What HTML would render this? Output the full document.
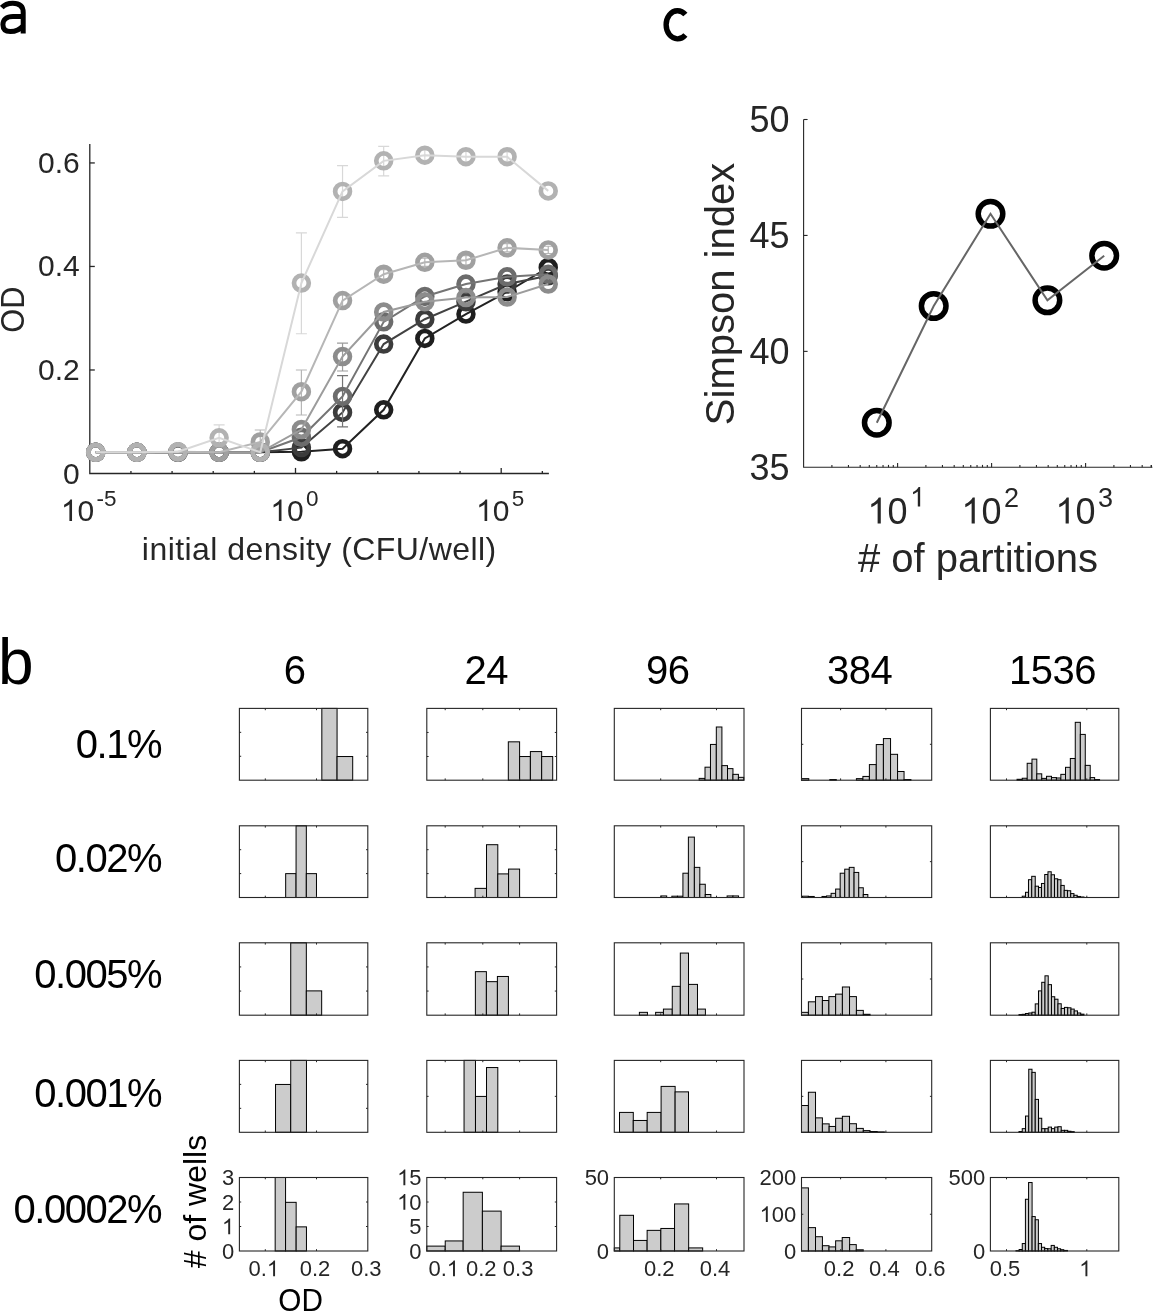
<!DOCTYPE html>
<html><head><meta charset="utf-8"><style>
html,body{margin:0;padding:0;background:#fff;width:1154px;height:1311px;overflow:hidden}
svg{display:block;font-family:"Liberation Sans",sans-serif;will-change:transform}
</style></head><body>
<svg width="1154" height="1311" viewBox="0 0 1154 1311">
<path d="M1.8,7.6 C4.8,4 8.8,3.2 12.8,3.2 C19.6,3.2 23.2,6 23.2,12.5 L23.2,33.6 M23.2,16.6 L13,16.6 C6.5,16.6 2.9,19.5 2.9,24.6 C2.9,29.6 6,31.6 10.4,31.6 C15.5,31.6 20,29.6 23.2,25.6" fill="none" stroke="#000" stroke-width="5"/>
<path d="M685.4,14.6 A11.4 14.1 0 1 0 685.4,35" fill="none" stroke="#000" stroke-width="5.4"/>
<text x="-2" y="683.5" font-size="64" fill="#000">b</text>
<path d="M89.8,144.0 L89.8,473.5 L548.9,473.5" fill="none" stroke="#262626" stroke-width="1.3"/>
<line x1="89.80" y1="369.98" x2="94.80" y2="369.98" stroke="#262626" stroke-width="1.3" />
<line x1="89.80" y1="266.46" x2="94.80" y2="266.46" stroke="#262626" stroke-width="1.3" />
<line x1="89.80" y1="162.94" x2="94.80" y2="162.94" stroke="#262626" stroke-width="1.3" />
<line x1="130.94" y1="473.50" x2="130.94" y2="470.90" stroke="#262626" stroke-width="1.3" />
<line x1="172.08" y1="473.50" x2="172.08" y2="470.90" stroke="#262626" stroke-width="1.3" />
<line x1="213.22" y1="473.50" x2="213.22" y2="470.90" stroke="#262626" stroke-width="1.3" />
<line x1="254.36" y1="473.50" x2="254.36" y2="470.90" stroke="#262626" stroke-width="1.3" />
<line x1="295.50" y1="473.50" x2="295.50" y2="467.90" stroke="#262626" stroke-width="1.3" />
<line x1="336.64" y1="473.50" x2="336.64" y2="470.90" stroke="#262626" stroke-width="1.3" />
<line x1="377.78" y1="473.50" x2="377.78" y2="470.90" stroke="#262626" stroke-width="1.3" />
<line x1="418.92" y1="473.50" x2="418.92" y2="470.90" stroke="#262626" stroke-width="1.3" />
<line x1="460.06" y1="473.50" x2="460.06" y2="470.90" stroke="#262626" stroke-width="1.3" />
<line x1="501.20" y1="473.50" x2="501.20" y2="467.90" stroke="#262626" stroke-width="1.3" />
<line x1="542.34" y1="473.50" x2="542.34" y2="470.90" stroke="#262626" stroke-width="1.3" />
<text x="79.80" y="483.50" font-size="30" text-anchor="end" fill="#262626" >0</text>
<text x="79.80" y="379.98" font-size="30" text-anchor="end" fill="#262626" >0.2</text>
<text x="79.80" y="276.46" font-size="30" text-anchor="end" fill="#262626" >0.4</text>
<text x="79.80" y="172.94" font-size="30" text-anchor="end" fill="#262626" >0.6</text>
<path d="M763,0L583,0L583,1147Q518,1085 412.5,1023T223,930L223,1104Q374,1175 487,1276T647,1472L763,1472Z" fill="#262626" transform="translate(60.86,521.00) scale(0.01465,-0.01465)"/>
<text x="77.55" y="521.00" font-size="30" fill="#262626">0</text>
<text x="96.48" y="506.00" font-size="22.5" fill="#262626">-5</text>
<path d="M763,0L583,0L583,1147Q518,1085 412.5,1023T223,930L223,1104Q374,1175 487,1276T647,1472L763,1472Z" fill="#262626" transform="translate(270.31,521.00) scale(0.01465,-0.01465)"/>
<text x="286.99" y="521.00" font-size="30" fill="#262626">0</text>
<text x="305.93" y="506.00" font-size="22.5" fill="#262626">0</text>
<path d="M763,0L583,0L583,1147Q518,1085 412.5,1023T223,930L223,1104Q374,1175 487,1276T647,1472L763,1472Z" fill="#262626" transform="translate(476.01,521.00) scale(0.01465,-0.01465)"/>
<text x="492.69" y="521.00" font-size="30" fill="#262626">0</text>
<text x="511.63" y="506.00" font-size="22.5" fill="#262626">5</text>
<text x="319.3" y="560" font-size="32" text-anchor="middle" fill="#262626" letter-spacing="0.45">initial density (CFU/well)</text>
<text x="0" y="0" font-size="33.5" text-anchor="middle" fill="#262626" transform="translate(23.8,309.6) rotate(-90) scale(0.92,1)">OD</text>
<circle cx="95.70" cy="452.28" r="7.4" fill="none" stroke="#1e1e1e" stroke-width="4.7"/>
<circle cx="136.84" cy="452.28" r="7.4" fill="none" stroke="#1e1e1e" stroke-width="4.7"/>
<circle cx="177.98" cy="452.28" r="7.4" fill="none" stroke="#1e1e1e" stroke-width="4.7"/>
<circle cx="219.12" cy="452.28" r="7.4" fill="none" stroke="#1e1e1e" stroke-width="4.7"/>
<circle cx="260.26" cy="452.28" r="7.4" fill="none" stroke="#1e1e1e" stroke-width="4.7"/>
<circle cx="301.40" cy="451.76" r="7.4" fill="none" stroke="#1e1e1e" stroke-width="4.7"/>
<circle cx="342.54" cy="448.66" r="7.4" fill="none" stroke="#1e1e1e" stroke-width="4.7"/>
<circle cx="383.68" cy="409.84" r="7.4" fill="none" stroke="#1e1e1e" stroke-width="4.7"/>
<circle cx="424.82" cy="338.41" r="7.4" fill="none" stroke="#1e1e1e" stroke-width="4.7"/>
<circle cx="465.96" cy="314.08" r="7.4" fill="none" stroke="#1e1e1e" stroke-width="4.7"/>
<circle cx="507.10" cy="291.82" r="7.4" fill="none" stroke="#1e1e1e" stroke-width="4.7"/>
<circle cx="548.24" cy="267.50" r="7.4" fill="none" stroke="#1e1e1e" stroke-width="4.7"/>
<polyline points="95.70,452.28 136.84,452.28 177.98,452.28 219.12,452.28 260.26,452.28 301.40,451.76 342.54,448.66 383.68,409.84 424.82,338.41 465.96,314.08 507.10,291.82 548.24,267.50" fill="none" stroke="#222222" stroke-width="2"/>
<circle cx="95.70" cy="452.28" r="7.4" fill="none" stroke="#3c3c3c" stroke-width="4.7"/>
<circle cx="136.84" cy="452.28" r="7.4" fill="none" stroke="#3c3c3c" stroke-width="4.7"/>
<circle cx="177.98" cy="452.28" r="7.4" fill="none" stroke="#3c3c3c" stroke-width="4.7"/>
<circle cx="219.12" cy="452.28" r="7.4" fill="none" stroke="#3c3c3c" stroke-width="4.7"/>
<circle cx="260.26" cy="452.28" r="7.4" fill="none" stroke="#3c3c3c" stroke-width="4.7"/>
<circle cx="301.40" cy="447.62" r="7.4" fill="none" stroke="#3c3c3c" stroke-width="4.7"/>
<circle cx="342.54" cy="412.42" r="7.4" fill="none" stroke="#3c3c3c" stroke-width="4.7"/>
<circle cx="383.68" cy="344.10" r="7.4" fill="none" stroke="#3c3c3c" stroke-width="4.7"/>
<circle cx="424.82" cy="319.26" r="7.4" fill="none" stroke="#3c3c3c" stroke-width="4.7"/>
<circle cx="465.96" cy="301.66" r="7.4" fill="none" stroke="#3c3c3c" stroke-width="4.7"/>
<circle cx="507.10" cy="284.06" r="7.4" fill="none" stroke="#3c3c3c" stroke-width="4.7"/>
<circle cx="548.24" cy="275.78" r="7.4" fill="none" stroke="#3c3c3c" stroke-width="4.7"/>
<polyline points="95.70,452.28 136.84,452.28 177.98,452.28 219.12,452.28 260.26,452.28 301.40,447.62 342.54,412.42 383.68,344.10 424.82,319.26 465.96,301.66 507.10,284.06 548.24,275.78" fill="none" stroke="#424242" stroke-width="2"/>
<path d="M342.54,426.92V375.67M337.04,426.92h11M337.04,375.67h11" stroke="#747474" stroke-width="1.2" fill="none"/>
<circle cx="95.70" cy="452.28" r="7.4" fill="none" stroke="#6c6c6c" stroke-width="4.7"/>
<circle cx="136.84" cy="452.28" r="7.4" fill="none" stroke="#6c6c6c" stroke-width="4.7"/>
<circle cx="177.98" cy="452.28" r="7.4" fill="none" stroke="#6c6c6c" stroke-width="4.7"/>
<circle cx="219.12" cy="452.28" r="7.4" fill="none" stroke="#6c6c6c" stroke-width="4.7"/>
<circle cx="260.26" cy="452.28" r="7.4" fill="none" stroke="#6c6c6c" stroke-width="4.7"/>
<circle cx="301.40" cy="437.27" r="7.4" fill="none" stroke="#6c6c6c" stroke-width="4.7"/>
<circle cx="342.54" cy="396.38" r="7.4" fill="none" stroke="#6c6c6c" stroke-width="4.7"/>
<circle cx="383.68" cy="321.84" r="7.4" fill="none" stroke="#6c6c6c" stroke-width="4.7"/>
<circle cx="424.82" cy="296.48" r="7.4" fill="none" stroke="#6c6c6c" stroke-width="4.7"/>
<circle cx="465.96" cy="284.06" r="7.4" fill="none" stroke="#6c6c6c" stroke-width="4.7"/>
<circle cx="507.10" cy="276.81" r="7.4" fill="none" stroke="#6c6c6c" stroke-width="4.7"/>
<circle cx="548.24" cy="274.22" r="7.4" fill="none" stroke="#6c6c6c" stroke-width="4.7"/>
<polyline points="95.70,452.28 136.84,452.28 177.98,452.28 219.12,452.28 260.26,452.28 301.40,437.27 342.54,396.38 383.68,321.84 424.82,296.48 465.96,284.06 507.10,276.81 548.24,274.22" fill="none" stroke="#747474" stroke-width="2"/>
<path d="M342.54,371.02V343.06M337.04,371.02h11M337.04,343.06h11" stroke="#9c9c9c" stroke-width="1.2" fill="none"/>
<circle cx="95.70" cy="452.28" r="7.4" fill="none" stroke="#8c8c8c" stroke-width="4.7"/>
<circle cx="136.84" cy="452.28" r="7.4" fill="none" stroke="#8c8c8c" stroke-width="4.7"/>
<circle cx="177.98" cy="452.28" r="7.4" fill="none" stroke="#8c8c8c" stroke-width="4.7"/>
<circle cx="219.12" cy="452.28" r="7.4" fill="none" stroke="#8c8c8c" stroke-width="4.7"/>
<circle cx="260.26" cy="452.28" r="7.4" fill="none" stroke="#8c8c8c" stroke-width="4.7"/>
<circle cx="301.40" cy="429.50" r="7.4" fill="none" stroke="#8c8c8c" stroke-width="4.7"/>
<circle cx="342.54" cy="356.52" r="7.4" fill="none" stroke="#8c8c8c" stroke-width="4.7"/>
<circle cx="383.68" cy="312.01" r="7.4" fill="none" stroke="#8c8c8c" stroke-width="4.7"/>
<circle cx="424.82" cy="301.66" r="7.4" fill="none" stroke="#8c8c8c" stroke-width="4.7"/>
<circle cx="465.96" cy="297.52" r="7.4" fill="none" stroke="#8c8c8c" stroke-width="4.7"/>
<circle cx="507.10" cy="297.00" r="7.4" fill="none" stroke="#8c8c8c" stroke-width="4.7"/>
<circle cx="548.24" cy="284.06" r="7.4" fill="none" stroke="#8c8c8c" stroke-width="4.7"/>
<polyline points="95.70,452.28 136.84,452.28 177.98,452.28 219.12,452.28 260.26,452.28 301.40,429.50 342.54,356.52 383.68,312.01 424.82,301.66 465.96,297.52 507.10,297.00 548.24,284.06" fill="none" stroke="#9c9c9c" stroke-width="2"/>
<path d="M260.26,447.62V430.02M254.76,447.62h11M254.76,430.02h11" stroke="#b6b6b6" stroke-width="1.2" fill="none"/>
<path d="M301.40,415.01V369.98M295.90,415.01h11M295.90,369.98h11" stroke="#b6b6b6" stroke-width="1.2" fill="none"/>
<path d="M342.54,306.83V294.41M337.04,306.83h11M337.04,294.41h11" stroke="#b6b6b6" stroke-width="1.2" fill="none"/>
<path d="M383.68,278.88V269.57M378.18,278.88h11M378.18,269.57h11" stroke="#b6b6b6" stroke-width="1.2" fill="none"/>
<path d="M424.82,266.46V258.18M419.32,266.46h11M419.32,258.18h11" stroke="#b6b6b6" stroke-width="1.2" fill="none"/>
<path d="M465.96,264.91V255.59M460.46,264.91h11M460.46,255.59h11" stroke="#b6b6b6" stroke-width="1.2" fill="none"/>
<path d="M507.10,251.97V243.69M501.60,251.97h11M501.60,243.69h11" stroke="#b6b6b6" stroke-width="1.2" fill="none"/>
<path d="M548.24,253.52V246.27M542.74,253.52h11M542.74,246.27h11" stroke="#b6b6b6" stroke-width="1.2" fill="none"/>
<circle cx="95.70" cy="452.28" r="7.4" fill="none" stroke="#a0a0a0" stroke-width="4.7"/>
<circle cx="136.84" cy="452.28" r="7.4" fill="none" stroke="#a0a0a0" stroke-width="4.7"/>
<circle cx="177.98" cy="451.76" r="7.4" fill="none" stroke="#a0a0a0" stroke-width="4.7"/>
<circle cx="219.12" cy="452.28" r="7.4" fill="none" stroke="#a0a0a0" stroke-width="4.7"/>
<circle cx="260.26" cy="441.93" r="7.4" fill="none" stroke="#a0a0a0" stroke-width="4.7"/>
<circle cx="301.40" cy="391.72" r="7.4" fill="none" stroke="#a0a0a0" stroke-width="4.7"/>
<circle cx="342.54" cy="300.62" r="7.4" fill="none" stroke="#a0a0a0" stroke-width="4.7"/>
<circle cx="383.68" cy="274.22" r="7.4" fill="none" stroke="#a0a0a0" stroke-width="4.7"/>
<circle cx="424.82" cy="262.32" r="7.4" fill="none" stroke="#a0a0a0" stroke-width="4.7"/>
<circle cx="465.96" cy="260.25" r="7.4" fill="none" stroke="#a0a0a0" stroke-width="4.7"/>
<circle cx="507.10" cy="247.83" r="7.4" fill="none" stroke="#a0a0a0" stroke-width="4.7"/>
<circle cx="548.24" cy="249.90" r="7.4" fill="none" stroke="#a0a0a0" stroke-width="4.7"/>
<polyline points="95.70,452.28 136.84,452.28 177.98,451.76 219.12,452.28 260.26,441.93 301.40,391.72 342.54,300.62 383.68,274.22 424.82,262.32 465.96,260.25 507.10,247.83 548.24,249.90" fill="none" stroke="#b6b6b6" stroke-width="2"/>
<path d="M219.12,443.48V424.85M213.62,443.48h11M213.62,424.85h11" stroke="#d8d8d8" stroke-width="1.2" fill="none"/>
<path d="M301.40,333.75V232.82M295.90,333.75h11M295.90,232.82h11" stroke="#d8d8d8" stroke-width="1.2" fill="none"/>
<path d="M342.54,217.29V165.53M337.04,217.29h11M337.04,165.53h11" stroke="#d8d8d8" stroke-width="1.2" fill="none"/>
<path d="M383.68,175.88V146.38M378.18,175.88h11M378.18,146.38h11" stroke="#d8d8d8" stroke-width="1.2" fill="none"/>
<path d="M424.82,160.35V150.00M419.32,160.35h11M419.32,150.00h11" stroke="#d8d8d8" stroke-width="1.2" fill="none"/>
<path d="M465.96,161.90V151.55M460.46,161.90h11M460.46,151.55h11" stroke="#d8d8d8" stroke-width="1.2" fill="none"/>
<path d="M507.10,161.39V152.07M501.60,161.39h11M501.60,152.07h11" stroke="#d8d8d8" stroke-width="1.2" fill="none"/>
<circle cx="95.70" cy="452.28" r="7.4" fill="none" stroke="#b2b2b2" stroke-width="4.7"/>
<circle cx="136.84" cy="452.28" r="7.4" fill="none" stroke="#b2b2b2" stroke-width="4.7"/>
<circle cx="177.98" cy="451.76" r="7.4" fill="none" stroke="#b2b2b2" stroke-width="4.7"/>
<circle cx="219.12" cy="437.79" r="7.4" fill="none" stroke="#b2b2b2" stroke-width="4.7"/>
<circle cx="260.26" cy="452.28" r="7.4" fill="none" stroke="#b2b2b2" stroke-width="4.7"/>
<circle cx="301.40" cy="283.02" r="7.4" fill="none" stroke="#b2b2b2" stroke-width="4.7"/>
<circle cx="342.54" cy="191.41" r="7.4" fill="none" stroke="#b2b2b2" stroke-width="4.7"/>
<circle cx="383.68" cy="160.87" r="7.4" fill="none" stroke="#b2b2b2" stroke-width="4.7"/>
<circle cx="424.82" cy="155.18" r="7.4" fill="none" stroke="#b2b2b2" stroke-width="4.7"/>
<circle cx="465.96" cy="156.73" r="7.4" fill="none" stroke="#b2b2b2" stroke-width="4.7"/>
<circle cx="507.10" cy="156.73" r="7.4" fill="none" stroke="#b2b2b2" stroke-width="4.7"/>
<circle cx="548.24" cy="190.89" r="7.4" fill="none" stroke="#b2b2b2" stroke-width="4.7"/>
<polyline points="95.70,452.28 136.84,452.28 177.98,451.76 219.12,437.79 260.26,452.28 301.40,283.02 342.54,191.41 383.68,160.87 424.82,155.18 465.96,156.73 507.10,156.73 548.24,190.89" fill="none" stroke="#d8d8d8" stroke-width="2"/>
<path d="M803.6,119.5 L803.6,467.3 L1152.4,467.3" fill="none" stroke="#262626" stroke-width="1.1"/>
<line x1="803.60" y1="351.37" x2="807.60" y2="351.37" stroke="#262626" stroke-width="1.1" />
<line x1="803.60" y1="235.43" x2="807.60" y2="235.43" stroke="#262626" stroke-width="1.1" />
<line x1="803.60" y1="119.50" x2="807.60" y2="119.50" stroke="#262626" stroke-width="1.1" />
<line x1="831.90" y1="467.30" x2="831.90" y2="464.90" stroke="#262626" stroke-width="1.1" />
<line x1="848.45" y1="467.30" x2="848.45" y2="464.90" stroke="#262626" stroke-width="1.1" />
<line x1="860.19" y1="467.30" x2="860.19" y2="464.90" stroke="#262626" stroke-width="1.1" />
<line x1="869.30" y1="467.30" x2="869.30" y2="464.90" stroke="#262626" stroke-width="1.1" />
<line x1="876.75" y1="467.30" x2="876.75" y2="464.90" stroke="#262626" stroke-width="1.1" />
<line x1="883.04" y1="467.30" x2="883.04" y2="464.90" stroke="#262626" stroke-width="1.1" />
<line x1="888.49" y1="467.30" x2="888.49" y2="464.90" stroke="#262626" stroke-width="1.1" />
<line x1="893.30" y1="467.30" x2="893.30" y2="464.90" stroke="#262626" stroke-width="1.1" />
<line x1="897.60" y1="467.30" x2="897.60" y2="463.10" stroke="#262626" stroke-width="1.1" />
<line x1="925.90" y1="467.30" x2="925.90" y2="464.90" stroke="#262626" stroke-width="1.1" />
<line x1="942.45" y1="467.30" x2="942.45" y2="464.90" stroke="#262626" stroke-width="1.1" />
<line x1="954.19" y1="467.30" x2="954.19" y2="464.90" stroke="#262626" stroke-width="1.1" />
<line x1="963.30" y1="467.30" x2="963.30" y2="464.90" stroke="#262626" stroke-width="1.1" />
<line x1="970.75" y1="467.30" x2="970.75" y2="464.90" stroke="#262626" stroke-width="1.1" />
<line x1="977.04" y1="467.30" x2="977.04" y2="464.90" stroke="#262626" stroke-width="1.1" />
<line x1="982.49" y1="467.30" x2="982.49" y2="464.90" stroke="#262626" stroke-width="1.1" />
<line x1="987.30" y1="467.30" x2="987.30" y2="464.90" stroke="#262626" stroke-width="1.1" />
<line x1="991.60" y1="467.30" x2="991.60" y2="463.10" stroke="#262626" stroke-width="1.1" />
<line x1="1019.90" y1="467.30" x2="1019.90" y2="464.90" stroke="#262626" stroke-width="1.1" />
<line x1="1036.45" y1="467.30" x2="1036.45" y2="464.90" stroke="#262626" stroke-width="1.1" />
<line x1="1048.19" y1="467.30" x2="1048.19" y2="464.90" stroke="#262626" stroke-width="1.1" />
<line x1="1057.30" y1="467.30" x2="1057.30" y2="464.90" stroke="#262626" stroke-width="1.1" />
<line x1="1064.75" y1="467.30" x2="1064.75" y2="464.90" stroke="#262626" stroke-width="1.1" />
<line x1="1071.04" y1="467.30" x2="1071.04" y2="464.90" stroke="#262626" stroke-width="1.1" />
<line x1="1076.49" y1="467.30" x2="1076.49" y2="464.90" stroke="#262626" stroke-width="1.1" />
<line x1="1081.30" y1="467.30" x2="1081.30" y2="464.90" stroke="#262626" stroke-width="1.1" />
<line x1="1085.60" y1="467.30" x2="1085.60" y2="463.10" stroke="#262626" stroke-width="1.1" />
<line x1="1113.90" y1="467.30" x2="1113.90" y2="464.90" stroke="#262626" stroke-width="1.1" />
<line x1="1130.45" y1="467.30" x2="1130.45" y2="464.90" stroke="#262626" stroke-width="1.1" />
<line x1="1142.19" y1="467.30" x2="1142.19" y2="464.90" stroke="#262626" stroke-width="1.1" />
<line x1="1151.30" y1="467.30" x2="1151.30" y2="464.90" stroke="#262626" stroke-width="1.1" />
<line x1="1151.30" y1="467.30" x2="1151.30" y2="464.90" stroke="#262626" stroke-width="1.1" />
<text x="789.60" y="479.90" font-size="36" text-anchor="end" fill="#262626" >35</text>
<text x="789.60" y="363.97" font-size="36" text-anchor="end" fill="#262626" >40</text>
<text x="789.60" y="248.03" font-size="36" text-anchor="end" fill="#262626" >45</text>
<text x="789.60" y="132.10" font-size="36" text-anchor="end" fill="#262626" >50</text>
<path d="M763,0L583,0L583,1147Q518,1085 412.5,1023T223,930L223,1104Q374,1175 487,1276T647,1472L763,1472Z" fill="#262626" transform="translate(867.37,523.50) scale(0.01758,-0.01758)"/>
<text x="887.39" y="523.50" font-size="36" fill="#262626">0</text>
<path d="M763,0L583,0L583,1147Q518,1085 412.5,1023T223,930L223,1104Q374,1175 487,1276T647,1472L763,1472Z" fill="#262626" transform="translate(910.11,506.50) scale(0.01318,-0.01318)"/>
<path d="M763,0L583,0L583,1147Q518,1085 412.5,1023T223,930L223,1104Q374,1175 487,1276T647,1472L763,1472Z" fill="#262626" transform="translate(961.37,523.50) scale(0.01758,-0.01758)"/>
<text x="981.39" y="523.50" font-size="36" fill="#262626">0</text>
<text x="1004.11" y="506.50" font-size="27" fill="#262626">2</text>
<path d="M763,0L583,0L583,1147Q518,1085 412.5,1023T223,930L223,1104Q374,1175 487,1276T647,1472L763,1472Z" fill="#262626" transform="translate(1055.37,523.50) scale(0.01758,-0.01758)"/>
<text x="1075.39" y="523.50" font-size="36" fill="#262626">0</text>
<text x="1098.11" y="506.50" font-size="27" fill="#262626">3</text>
<text x="978" y="571.5" font-size="40" text-anchor="middle" fill="#262626"># of partitions</text>
<text x="0" y="0" font-size="40" text-anchor="middle" fill="#262626" transform="translate(733.9,294) rotate(-90)">Simpson index</text>
<circle cx="876.8" cy="422.7" r="12.3" fill="none" stroke="#000" stroke-width="5.5"/>
<circle cx="933.7" cy="306.0" r="12.3" fill="none" stroke="#000" stroke-width="5.5"/>
<circle cx="990.5" cy="213.8" r="12.3" fill="none" stroke="#000" stroke-width="5.5"/>
<circle cx="1047.4" cy="300.3" r="12.3" fill="none" stroke="#000" stroke-width="5.5"/>
<circle cx="1104.2" cy="255.7" r="12.3" fill="none" stroke="#000" stroke-width="5.5"/>
<polyline points="876.8,422.7 933.7,306.0 990.5,213.8 1047.4,300.3 1104.2,255.7" fill="none" stroke="#666" stroke-width="2"/>
<text x="294.70" y="684.00" font-size="40" text-anchor="middle" fill="#000" letter-spacing="-0.5">6</text>
<text x="486.30" y="684.00" font-size="40" text-anchor="middle" fill="#000" letter-spacing="-0.5">24</text>
<text x="667.80" y="684.00" font-size="40" text-anchor="middle" fill="#000" letter-spacing="-0.5">96</text>
<text x="859.60" y="684.00" font-size="40" text-anchor="middle" fill="#000" letter-spacing="-0.5">384</text>
<text x="1052.60" y="684.00" font-size="40" text-anchor="middle" fill="#000" letter-spacing="-0.5">1536</text>
<text x="161.00" y="757.50" font-size="40" text-anchor="end" fill="#000" letter-spacing="-1.5">0.1%</text>
<text x="161.00" y="872.20" font-size="40" text-anchor="end" fill="#000" letter-spacing="-1.5">0.02%</text>
<text x="161.00" y="987.70" font-size="40" text-anchor="end" fill="#000" letter-spacing="-1.5">0.005%</text>
<text x="161.00" y="1106.80" font-size="40" text-anchor="end" fill="#000" letter-spacing="-1.5">0.001%</text>
<text x="161.00" y="1222.60" font-size="40" text-anchor="end" fill="#000" letter-spacing="-1.5">0.0002%</text>
<rect x="239.40" y="708.40" width="128.40" height="71.80" fill="#fff" stroke="none"/>
<rect x="321.83" y="708.40" width="15.24" height="71.80" fill="#cccccc" stroke="#000" stroke-width="1"/>
<rect x="337.07" y="756.53" width="15.63" height="23.67" fill="#cccccc" stroke="#000" stroke-width="1"/>
<rect x="239.40" y="708.40" width="128.40" height="71.80" fill="none" stroke="#262626" stroke-width="1.1"/>
<line x1="265.30" y1="780.20" x2="265.30" y2="778.40" stroke="#262626" stroke-width="1" />
<line x1="265.30" y1="708.40" x2="265.30" y2="710.20" stroke="#262626" stroke-width="1" />
<line x1="316.50" y1="780.20" x2="316.50" y2="778.40" stroke="#262626" stroke-width="1" />
<line x1="316.50" y1="708.40" x2="316.50" y2="710.20" stroke="#262626" stroke-width="1" />
<line x1="239.40" y1="756.27" x2="241.20" y2="756.27" stroke="#262626" stroke-width="1" />
<line x1="367.80" y1="756.27" x2="366.00" y2="756.27" stroke="#262626" stroke-width="1" />
<line x1="239.40" y1="732.33" x2="241.20" y2="732.33" stroke="#262626" stroke-width="1" />
<line x1="367.80" y1="732.33" x2="366.00" y2="732.33" stroke="#262626" stroke-width="1" />
<rect x="426.80" y="708.40" width="129.80" height="71.80" fill="#fff" stroke="none"/>
<rect x="508.31" y="741.83" width="11.29" height="38.37" fill="#cccccc" stroke="#000" stroke-width="1"/>
<rect x="519.61" y="756.53" width="10.77" height="23.67" fill="#cccccc" stroke="#000" stroke-width="1"/>
<rect x="530.38" y="751.58" width="11.29" height="28.62" fill="#cccccc" stroke="#000" stroke-width="1"/>
<rect x="541.67" y="756.53" width="11.03" height="23.67" fill="#cccccc" stroke="#000" stroke-width="1"/>
<rect x="426.80" y="708.40" width="129.80" height="71.80" fill="none" stroke="#262626" stroke-width="1.1"/>
<line x1="445.20" y1="780.20" x2="445.20" y2="778.40" stroke="#262626" stroke-width="1" />
<line x1="445.20" y1="708.40" x2="445.20" y2="710.20" stroke="#262626" stroke-width="1" />
<line x1="482.80" y1="780.20" x2="482.80" y2="778.40" stroke="#262626" stroke-width="1" />
<line x1="482.80" y1="708.40" x2="482.80" y2="710.20" stroke="#262626" stroke-width="1" />
<line x1="519.60" y1="780.20" x2="519.60" y2="778.40" stroke="#262626" stroke-width="1" />
<line x1="519.60" y1="708.40" x2="519.60" y2="710.20" stroke="#262626" stroke-width="1" />
<line x1="426.80" y1="756.51" x2="428.60" y2="756.51" stroke="#262626" stroke-width="1" />
<line x1="556.60" y1="756.51" x2="554.80" y2="756.51" stroke="#262626" stroke-width="1" />
<line x1="426.80" y1="732.45" x2="428.60" y2="732.45" stroke="#262626" stroke-width="1" />
<line x1="556.60" y1="732.45" x2="554.80" y2="732.45" stroke="#262626" stroke-width="1" />
<rect x="614.30" y="708.40" width="129.70" height="71.80" fill="#fff" stroke="none"/>
<rect x="699.16" y="778.38" width="5.85" height="1.82" fill="#cccccc" stroke="#000" stroke-width="1"/>
<rect x="705.01" y="767.19" width="5.46" height="13.01" fill="#cccccc" stroke="#000" stroke-width="1"/>
<rect x="710.47" y="744.43" width="5.85" height="35.77" fill="#cccccc" stroke="#000" stroke-width="1"/>
<rect x="716.32" y="727.00" width="5.59" height="53.20" fill="#cccccc" stroke="#000" stroke-width="1"/>
<rect x="721.91" y="765.63" width="5.59" height="14.57" fill="#cccccc" stroke="#000" stroke-width="1"/>
<rect x="727.50" y="768.62" width="5.46" height="11.58" fill="#cccccc" stroke="#000" stroke-width="1"/>
<rect x="732.95" y="774.35" width="5.46" height="5.85" fill="#cccccc" stroke="#000" stroke-width="1"/>
<rect x="738.41" y="777.34" width="5.33" height="2.86" fill="#cccccc" stroke="#000" stroke-width="1"/>
<rect x="614.30" y="708.40" width="129.70" height="71.80" fill="none" stroke="#262626" stroke-width="1.1"/>
<line x1="660.70" y1="780.20" x2="660.70" y2="778.40" stroke="#262626" stroke-width="1" />
<line x1="660.70" y1="708.40" x2="660.70" y2="710.20" stroke="#262626" stroke-width="1" />
<line x1="716.50" y1="780.20" x2="716.50" y2="778.40" stroke="#262626" stroke-width="1" />
<line x1="716.50" y1="708.40" x2="716.50" y2="710.20" stroke="#262626" stroke-width="1" />
<rect x="801.50" y="708.40" width="130.20" height="71.80" fill="#fff" stroke="none"/>
<rect x="801.50" y="778.64" width="7.27" height="1.56" fill="#cccccc" stroke="#000" stroke-width="1"/>
<rect x="829.80" y="779.55" width="6.49" height="0.65" fill="#cccccc" stroke="#000" stroke-width="1"/>
<rect x="856.41" y="778.64" width="6.49" height="1.56" fill="#cccccc" stroke="#000" stroke-width="1"/>
<rect x="862.90" y="776.43" width="6.49" height="3.77" fill="#cccccc" stroke="#000" stroke-width="1"/>
<rect x="869.39" y="764.59" width="6.88" height="15.61" fill="#cccccc" stroke="#000" stroke-width="1"/>
<rect x="876.27" y="744.56" width="7.14" height="35.64" fill="#cccccc" stroke="#000" stroke-width="1"/>
<rect x="883.41" y="738.58" width="7.14" height="41.62" fill="#cccccc" stroke="#000" stroke-width="1"/>
<rect x="890.55" y="754.32" width="7.01" height="25.88" fill="#cccccc" stroke="#000" stroke-width="1"/>
<rect x="897.56" y="771.49" width="6.49" height="8.71" fill="#cccccc" stroke="#000" stroke-width="1"/>
<rect x="904.05" y="779.55" width="6.88" height="0.65" fill="#cccccc" stroke="#000" stroke-width="1"/>
<rect x="801.50" y="708.40" width="130.20" height="71.80" fill="none" stroke="#262626" stroke-width="1.1"/>
<line x1="840.60" y1="780.20" x2="840.60" y2="778.40" stroke="#262626" stroke-width="1" />
<line x1="840.60" y1="708.40" x2="840.60" y2="710.20" stroke="#262626" stroke-width="1" />
<line x1="885.90" y1="780.20" x2="885.90" y2="778.40" stroke="#262626" stroke-width="1" />
<line x1="885.90" y1="708.40" x2="885.90" y2="710.20" stroke="#262626" stroke-width="1" />
<line x1="801.50" y1="744.30" x2="803.30" y2="744.30" stroke="#262626" stroke-width="1" />
<line x1="931.70" y1="744.30" x2="929.90" y2="744.30" stroke="#262626" stroke-width="1" />
<rect x="990.40" y="708.40" width="128.40" height="71.80" fill="#fff" stroke="none"/>
<rect x="1017.04" y="779.29" width="5.20" height="0.91" fill="#cccccc" stroke="#000" stroke-width="1"/>
<rect x="1022.24" y="778.25" width="4.94" height="1.95" fill="#cccccc" stroke="#000" stroke-width="1"/>
<rect x="1027.18" y="763.29" width="4.81" height="16.91" fill="#cccccc" stroke="#000" stroke-width="1"/>
<rect x="1031.99" y="759.13" width="4.81" height="21.07" fill="#cccccc" stroke="#000" stroke-width="1"/>
<rect x="1036.80" y="773.83" width="4.94" height="6.37" fill="#cccccc" stroke="#000" stroke-width="1"/>
<rect x="1041.73" y="778.38" width="4.81" height="1.82" fill="#cccccc" stroke="#000" stroke-width="1"/>
<rect x="1046.54" y="776.30" width="4.94" height="3.90" fill="#cccccc" stroke="#000" stroke-width="1"/>
<rect x="1051.48" y="777.60" width="4.94" height="2.60" fill="#cccccc" stroke="#000" stroke-width="1"/>
<rect x="1056.42" y="777.99" width="4.42" height="2.21" fill="#cccccc" stroke="#000" stroke-width="1"/>
<rect x="1060.84" y="774.35" width="4.68" height="5.85" fill="#cccccc" stroke="#000" stroke-width="1"/>
<rect x="1065.52" y="767.32" width="4.81" height="12.88" fill="#cccccc" stroke="#000" stroke-width="1"/>
<rect x="1070.33" y="758.48" width="4.94" height="21.72" fill="#cccccc" stroke="#000" stroke-width="1"/>
<rect x="1075.26" y="722.32" width="5.07" height="57.88" fill="#cccccc" stroke="#000" stroke-width="1"/>
<rect x="1080.33" y="734.41" width="4.94" height="45.79" fill="#cccccc" stroke="#000" stroke-width="1"/>
<rect x="1085.27" y="765.37" width="4.94" height="14.83" fill="#cccccc" stroke="#000" stroke-width="1"/>
<rect x="1090.21" y="777.60" width="4.42" height="2.60" fill="#cccccc" stroke="#000" stroke-width="1"/>
<rect x="1094.63" y="779.55" width="4.94" height="0.65" fill="#cccccc" stroke="#000" stroke-width="1"/>
<rect x="990.40" y="708.40" width="128.40" height="71.80" fill="none" stroke="#262626" stroke-width="1.1"/>
<line x1="1006.50" y1="780.20" x2="1006.50" y2="778.40" stroke="#262626" stroke-width="1" />
<line x1="1006.50" y1="708.40" x2="1006.50" y2="710.20" stroke="#262626" stroke-width="1" />
<line x1="1086.80" y1="780.20" x2="1086.80" y2="778.40" stroke="#262626" stroke-width="1" />
<line x1="1086.80" y1="708.40" x2="1086.80" y2="710.20" stroke="#262626" stroke-width="1" />
<rect x="239.40" y="825.80" width="128.40" height="71.70" fill="#fff" stroke="none"/>
<rect x="285.67" y="873.64" width="10.40" height="23.86" fill="#cccccc" stroke="#000" stroke-width="1"/>
<rect x="296.06" y="825.80" width="10.27" height="71.70" fill="#cccccc" stroke="#000" stroke-width="1"/>
<rect x="306.33" y="873.64" width="10.14" height="23.86" fill="#cccccc" stroke="#000" stroke-width="1"/>
<rect x="239.40" y="825.80" width="128.40" height="71.70" fill="none" stroke="#262626" stroke-width="1.1"/>
<line x1="265.30" y1="897.50" x2="265.30" y2="895.70" stroke="#262626" stroke-width="1" />
<line x1="265.30" y1="825.80" x2="265.30" y2="827.60" stroke="#262626" stroke-width="1" />
<line x1="316.50" y1="897.50" x2="316.50" y2="895.70" stroke="#262626" stroke-width="1" />
<line x1="316.50" y1="825.80" x2="316.50" y2="827.60" stroke="#262626" stroke-width="1" />
<line x1="239.40" y1="873.60" x2="241.20" y2="873.60" stroke="#262626" stroke-width="1" />
<line x1="367.80" y1="873.60" x2="366.00" y2="873.60" stroke="#262626" stroke-width="1" />
<line x1="239.40" y1="849.70" x2="241.20" y2="849.70" stroke="#262626" stroke-width="1" />
<line x1="367.80" y1="849.70" x2="366.00" y2="849.70" stroke="#262626" stroke-width="1" />
<rect x="426.80" y="825.80" width="129.80" height="71.70" fill="#fff" stroke="none"/>
<rect x="475.09" y="888.37" width="11.42" height="9.13" fill="#cccccc" stroke="#000" stroke-width="1"/>
<rect x="486.51" y="844.70" width="11.29" height="52.80" fill="#cccccc" stroke="#000" stroke-width="1"/>
<rect x="497.80" y="873.90" width="10.77" height="23.60" fill="#cccccc" stroke="#000" stroke-width="1"/>
<rect x="508.57" y="869.08" width="11.03" height="28.42" fill="#cccccc" stroke="#000" stroke-width="1"/>
<rect x="426.80" y="825.80" width="129.80" height="71.70" fill="none" stroke="#262626" stroke-width="1.1"/>
<line x1="445.20" y1="897.50" x2="445.20" y2="895.70" stroke="#262626" stroke-width="1" />
<line x1="445.20" y1="825.80" x2="445.20" y2="827.60" stroke="#262626" stroke-width="1" />
<line x1="482.80" y1="897.50" x2="482.80" y2="895.70" stroke="#262626" stroke-width="1" />
<line x1="482.80" y1="825.80" x2="482.80" y2="827.60" stroke="#262626" stroke-width="1" />
<line x1="519.60" y1="897.50" x2="519.60" y2="895.70" stroke="#262626" stroke-width="1" />
<line x1="519.60" y1="825.80" x2="519.60" y2="827.60" stroke="#262626" stroke-width="1" />
<line x1="426.80" y1="873.60" x2="428.60" y2="873.60" stroke="#262626" stroke-width="1" />
<line x1="556.60" y1="873.60" x2="554.80" y2="873.60" stroke="#262626" stroke-width="1" />
<line x1="426.80" y1="849.70" x2="428.60" y2="849.70" stroke="#262626" stroke-width="1" />
<line x1="556.60" y1="849.70" x2="554.80" y2="849.70" stroke="#262626" stroke-width="1" />
<rect x="614.30" y="825.80" width="129.70" height="71.70" fill="#fff" stroke="none"/>
<rect x="661.09" y="895.94" width="5.59" height="1.56" fill="#cccccc" stroke="#000" stroke-width="1"/>
<rect x="671.87" y="896.20" width="5.59" height="1.30" fill="#cccccc" stroke="#000" stroke-width="1"/>
<rect x="677.46" y="896.20" width="5.46" height="1.30" fill="#cccccc" stroke="#000" stroke-width="1"/>
<rect x="682.92" y="873.21" width="5.46" height="24.29" fill="#cccccc" stroke="#000" stroke-width="1"/>
<rect x="688.38" y="837.10" width="5.98" height="60.40" fill="#cccccc" stroke="#000" stroke-width="1"/>
<rect x="694.36" y="867.37" width="5.46" height="30.13" fill="#cccccc" stroke="#000" stroke-width="1"/>
<rect x="699.81" y="884.25" width="5.46" height="13.25" fill="#cccccc" stroke="#000" stroke-width="1"/>
<rect x="705.27" y="894.51" width="5.59" height="2.99" fill="#cccccc" stroke="#000" stroke-width="1"/>
<rect x="727.11" y="895.94" width="5.85" height="1.56" fill="#cccccc" stroke="#000" stroke-width="1"/>
<rect x="732.95" y="895.94" width="5.59" height="1.56" fill="#cccccc" stroke="#000" stroke-width="1"/>
<rect x="614.30" y="825.80" width="129.70" height="71.70" fill="none" stroke="#262626" stroke-width="1.1"/>
<line x1="660.70" y1="897.50" x2="660.70" y2="895.70" stroke="#262626" stroke-width="1" />
<line x1="660.70" y1="825.80" x2="660.70" y2="827.60" stroke="#262626" stroke-width="1" />
<line x1="716.50" y1="897.50" x2="716.50" y2="895.70" stroke="#262626" stroke-width="1" />
<line x1="716.50" y1="825.80" x2="716.50" y2="827.60" stroke="#262626" stroke-width="1" />
<rect x="801.50" y="825.80" width="130.20" height="71.70" fill="#fff" stroke="none"/>
<rect x="802.54" y="896.20" width="5.84" height="1.30" fill="#cccccc" stroke="#000" stroke-width="1"/>
<rect x="808.38" y="896.46" width="5.84" height="1.04" fill="#cccccc" stroke="#000" stroke-width="1"/>
<rect x="822.01" y="896.46" width="4.54" height="1.04" fill="#cccccc" stroke="#000" stroke-width="1"/>
<rect x="826.55" y="895.94" width="4.54" height="1.56" fill="#cccccc" stroke="#000" stroke-width="1"/>
<rect x="831.10" y="893.34" width="4.54" height="4.16" fill="#cccccc" stroke="#000" stroke-width="1"/>
<rect x="835.64" y="889.06" width="4.54" height="8.44" fill="#cccccc" stroke="#000" stroke-width="1"/>
<rect x="840.18" y="873.21" width="4.54" height="24.29" fill="#cccccc" stroke="#000" stroke-width="1"/>
<rect x="844.73" y="869.18" width="4.54" height="28.32" fill="#cccccc" stroke="#000" stroke-width="1"/>
<rect x="849.27" y="867.37" width="4.80" height="30.13" fill="#cccccc" stroke="#000" stroke-width="1"/>
<rect x="854.07" y="872.43" width="4.67" height="25.07" fill="#cccccc" stroke="#000" stroke-width="1"/>
<rect x="858.75" y="887.76" width="4.54" height="9.74" fill="#cccccc" stroke="#000" stroke-width="1"/>
<rect x="863.29" y="894.51" width="4.54" height="2.99" fill="#cccccc" stroke="#000" stroke-width="1"/>
<rect x="801.50" y="825.80" width="130.20" height="71.70" fill="none" stroke="#262626" stroke-width="1.1"/>
<line x1="840.60" y1="897.50" x2="840.60" y2="895.70" stroke="#262626" stroke-width="1" />
<line x1="840.60" y1="825.80" x2="840.60" y2="827.60" stroke="#262626" stroke-width="1" />
<line x1="885.90" y1="897.50" x2="885.90" y2="895.70" stroke="#262626" stroke-width="1" />
<line x1="885.90" y1="825.80" x2="885.90" y2="827.60" stroke="#262626" stroke-width="1" />
<line x1="801.50" y1="861.65" x2="803.30" y2="861.65" stroke="#262626" stroke-width="1" />
<line x1="931.70" y1="861.65" x2="929.90" y2="861.65" stroke="#262626" stroke-width="1" />
<rect x="990.40" y="825.80" width="128.40" height="71.70" fill="#fff" stroke="none"/>
<rect x="1022.24" y="896.20" width="3.25" height="1.30" fill="#cccccc" stroke="#000" stroke-width="1"/>
<rect x="1025.49" y="892.30" width="2.99" height="5.20" fill="#cccccc" stroke="#000" stroke-width="1"/>
<rect x="1028.48" y="879.70" width="3.25" height="17.80" fill="#cccccc" stroke="#000" stroke-width="1"/>
<rect x="1031.73" y="876.33" width="3.51" height="21.17" fill="#cccccc" stroke="#000" stroke-width="1"/>
<rect x="1035.24" y="886.20" width="3.25" height="11.30" fill="#cccccc" stroke="#000" stroke-width="1"/>
<rect x="1038.49" y="887.50" width="2.99" height="10.00" fill="#cccccc" stroke="#000" stroke-width="1"/>
<rect x="1041.47" y="883.47" width="3.25" height="14.03" fill="#cccccc" stroke="#000" stroke-width="1"/>
<rect x="1044.72" y="874.51" width="3.25" height="22.99" fill="#cccccc" stroke="#000" stroke-width="1"/>
<rect x="1047.97" y="871.78" width="3.25" height="25.72" fill="#cccccc" stroke="#000" stroke-width="1"/>
<rect x="1051.22" y="874.77" width="3.25" height="22.73" fill="#cccccc" stroke="#000" stroke-width="1"/>
<rect x="1054.47" y="878.80" width="3.25" height="18.70" fill="#cccccc" stroke="#000" stroke-width="1"/>
<rect x="1057.72" y="879.70" width="3.25" height="17.80" fill="#cccccc" stroke="#000" stroke-width="1"/>
<rect x="1060.97" y="885.42" width="3.25" height="12.08" fill="#cccccc" stroke="#000" stroke-width="1"/>
<rect x="1064.22" y="890.36" width="3.25" height="7.14" fill="#cccccc" stroke="#000" stroke-width="1"/>
<rect x="1067.47" y="890.75" width="3.25" height="6.75" fill="#cccccc" stroke="#000" stroke-width="1"/>
<rect x="1070.71" y="893.60" width="3.25" height="3.90" fill="#cccccc" stroke="#000" stroke-width="1"/>
<rect x="1073.96" y="895.29" width="3.25" height="2.21" fill="#cccccc" stroke="#000" stroke-width="1"/>
<rect x="1077.21" y="896.46" width="3.25" height="1.04" fill="#cccccc" stroke="#000" stroke-width="1"/>
<rect x="1080.46" y="896.98" width="3.51" height="0.52" fill="#cccccc" stroke="#000" stroke-width="1"/>
<rect x="990.40" y="825.80" width="128.40" height="71.70" fill="none" stroke="#262626" stroke-width="1.1"/>
<line x1="1006.50" y1="897.50" x2="1006.50" y2="895.70" stroke="#262626" stroke-width="1" />
<line x1="1006.50" y1="825.80" x2="1006.50" y2="827.60" stroke="#262626" stroke-width="1" />
<line x1="1086.80" y1="897.50" x2="1086.80" y2="895.70" stroke="#262626" stroke-width="1" />
<line x1="1086.80" y1="825.80" x2="1086.80" y2="827.60" stroke="#262626" stroke-width="1" />
<rect x="239.40" y="942.80" width="128.40" height="72.40" fill="#fff" stroke="none"/>
<rect x="290.73" y="942.80" width="15.60" height="72.40" fill="#cccccc" stroke="#000" stroke-width="1"/>
<rect x="306.33" y="990.89" width="15.34" height="24.31" fill="#cccccc" stroke="#000" stroke-width="1"/>
<rect x="239.40" y="942.80" width="128.40" height="72.40" fill="none" stroke="#262626" stroke-width="1.1"/>
<line x1="265.30" y1="1015.20" x2="265.30" y2="1013.40" stroke="#262626" stroke-width="1" />
<line x1="265.30" y1="942.80" x2="265.30" y2="944.60" stroke="#262626" stroke-width="1" />
<line x1="316.50" y1="1015.20" x2="316.50" y2="1013.40" stroke="#262626" stroke-width="1" />
<line x1="316.50" y1="942.80" x2="316.50" y2="944.60" stroke="#262626" stroke-width="1" />
<line x1="239.40" y1="991.07" x2="241.20" y2="991.07" stroke="#262626" stroke-width="1" />
<line x1="367.80" y1="991.07" x2="366.00" y2="991.07" stroke="#262626" stroke-width="1" />
<line x1="239.40" y1="966.93" x2="241.20" y2="966.93" stroke="#262626" stroke-width="1" />
<line x1="367.80" y1="966.93" x2="366.00" y2="966.93" stroke="#262626" stroke-width="1" />
<rect x="426.80" y="942.80" width="129.80" height="72.40" fill="#fff" stroke="none"/>
<rect x="475.38" y="971.66" width="11.01" height="43.54" fill="#cccccc" stroke="#000" stroke-width="1"/>
<rect x="486.39" y="981.66" width="11.01" height="33.54" fill="#cccccc" stroke="#000" stroke-width="1"/>
<rect x="497.40" y="976.47" width="11.01" height="38.73" fill="#cccccc" stroke="#000" stroke-width="1"/>
<rect x="426.80" y="942.80" width="129.80" height="72.40" fill="none" stroke="#262626" stroke-width="1.1"/>
<line x1="445.20" y1="1015.20" x2="445.20" y2="1013.40" stroke="#262626" stroke-width="1" />
<line x1="445.20" y1="942.80" x2="445.20" y2="944.60" stroke="#262626" stroke-width="1" />
<line x1="482.80" y1="1015.20" x2="482.80" y2="1013.40" stroke="#262626" stroke-width="1" />
<line x1="482.80" y1="942.80" x2="482.80" y2="944.60" stroke="#262626" stroke-width="1" />
<line x1="519.60" y1="1015.20" x2="519.60" y2="1013.40" stroke="#262626" stroke-width="1" />
<line x1="519.60" y1="942.80" x2="519.60" y2="944.60" stroke="#262626" stroke-width="1" />
<line x1="426.80" y1="991.07" x2="428.60" y2="991.07" stroke="#262626" stroke-width="1" />
<line x1="556.60" y1="991.07" x2="554.80" y2="991.07" stroke="#262626" stroke-width="1" />
<line x1="426.80" y1="966.93" x2="428.60" y2="966.93" stroke="#262626" stroke-width="1" />
<line x1="556.60" y1="966.93" x2="554.80" y2="966.93" stroke="#262626" stroke-width="1" />
<rect x="614.30" y="942.80" width="129.70" height="72.40" fill="#fff" stroke="none"/>
<rect x="639.38" y="1012.34" width="8.06" height="2.86" fill="#cccccc" stroke="#000" stroke-width="1"/>
<rect x="655.63" y="1012.34" width="7.80" height="2.86" fill="#cccccc" stroke="#000" stroke-width="1"/>
<rect x="663.42" y="1009.09" width="8.84" height="6.11" fill="#cccccc" stroke="#000" stroke-width="1"/>
<rect x="672.26" y="986.34" width="8.06" height="28.86" fill="#cccccc" stroke="#000" stroke-width="1"/>
<rect x="680.32" y="953.07" width="8.19" height="62.13" fill="#cccccc" stroke="#000" stroke-width="1"/>
<rect x="688.51" y="984.39" width="8.97" height="30.81" fill="#cccccc" stroke="#000" stroke-width="1"/>
<rect x="697.47" y="1009.09" width="7.93" height="6.11" fill="#cccccc" stroke="#000" stroke-width="1"/>
<rect x="614.30" y="942.80" width="129.70" height="72.40" fill="none" stroke="#262626" stroke-width="1.1"/>
<line x1="660.70" y1="1015.20" x2="660.70" y2="1013.40" stroke="#262626" stroke-width="1" />
<line x1="660.70" y1="942.80" x2="660.70" y2="944.60" stroke="#262626" stroke-width="1" />
<line x1="716.50" y1="1015.20" x2="716.50" y2="1013.40" stroke="#262626" stroke-width="1" />
<line x1="716.50" y1="942.80" x2="716.50" y2="944.60" stroke="#262626" stroke-width="1" />
<rect x="801.50" y="942.80" width="130.20" height="72.40" fill="#fff" stroke="none"/>
<rect x="801.50" y="1012.34" width="6.88" height="2.86" fill="#cccccc" stroke="#000" stroke-width="1"/>
<rect x="808.38" y="1001.81" width="7.14" height="13.39" fill="#cccccc" stroke="#000" stroke-width="1"/>
<rect x="815.52" y="996.61" width="6.88" height="18.59" fill="#cccccc" stroke="#000" stroke-width="1"/>
<rect x="822.40" y="1000.51" width="6.49" height="14.69" fill="#cccccc" stroke="#000" stroke-width="1"/>
<rect x="828.89" y="996.61" width="6.75" height="18.59" fill="#cccccc" stroke="#000" stroke-width="1"/>
<rect x="835.64" y="994.14" width="6.75" height="21.06" fill="#cccccc" stroke="#000" stroke-width="1"/>
<rect x="842.39" y="986.99" width="7.14" height="28.21" fill="#cccccc" stroke="#000" stroke-width="1"/>
<rect x="849.53" y="996.61" width="6.88" height="18.59" fill="#cccccc" stroke="#000" stroke-width="1"/>
<rect x="856.41" y="1010.39" width="6.88" height="4.81" fill="#cccccc" stroke="#000" stroke-width="1"/>
<rect x="863.29" y="1014.29" width="6.75" height="0.91" fill="#cccccc" stroke="#000" stroke-width="1"/>
<rect x="801.50" y="942.80" width="130.20" height="72.40" fill="none" stroke="#262626" stroke-width="1.1"/>
<line x1="840.60" y1="1015.20" x2="840.60" y2="1013.40" stroke="#262626" stroke-width="1" />
<line x1="840.60" y1="942.80" x2="840.60" y2="944.60" stroke="#262626" stroke-width="1" />
<line x1="885.90" y1="1015.20" x2="885.90" y2="1013.40" stroke="#262626" stroke-width="1" />
<line x1="885.90" y1="942.80" x2="885.90" y2="944.60" stroke="#262626" stroke-width="1" />
<line x1="801.50" y1="979.00" x2="803.30" y2="979.00" stroke="#262626" stroke-width="1" />
<line x1="931.70" y1="979.00" x2="929.90" y2="979.00" stroke="#262626" stroke-width="1" />
<rect x="990.40" y="942.80" width="128.40" height="72.40" fill="#fff" stroke="none"/>
<rect x="1018.99" y="1014.55" width="3.25" height="0.65" fill="#cccccc" stroke="#000" stroke-width="1"/>
<rect x="1022.24" y="1014.29" width="3.25" height="0.91" fill="#cccccc" stroke="#000" stroke-width="1"/>
<rect x="1025.49" y="1013.51" width="3.25" height="1.69" fill="#cccccc" stroke="#000" stroke-width="1"/>
<rect x="1028.74" y="1012.99" width="3.25" height="2.21" fill="#cccccc" stroke="#000" stroke-width="1"/>
<rect x="1031.99" y="1012.21" width="3.25" height="2.99" fill="#cccccc" stroke="#000" stroke-width="1"/>
<rect x="1035.24" y="1003.89" width="3.25" height="11.31" fill="#cccccc" stroke="#000" stroke-width="1"/>
<rect x="1038.49" y="990.89" width="3.25" height="24.31" fill="#cccccc" stroke="#000" stroke-width="1"/>
<rect x="1041.73" y="982.31" width="3.25" height="32.89" fill="#cccccc" stroke="#000" stroke-width="1"/>
<rect x="1044.98" y="975.82" width="3.25" height="39.38" fill="#cccccc" stroke="#000" stroke-width="1"/>
<rect x="1048.23" y="984.65" width="3.25" height="30.55" fill="#cccccc" stroke="#000" stroke-width="1"/>
<rect x="1051.48" y="996.74" width="3.25" height="18.46" fill="#cccccc" stroke="#000" stroke-width="1"/>
<rect x="1054.73" y="999.21" width="3.25" height="15.99" fill="#cccccc" stroke="#000" stroke-width="1"/>
<rect x="1057.98" y="1003.76" width="3.25" height="11.44" fill="#cccccc" stroke="#000" stroke-width="1"/>
<rect x="1061.23" y="1008.44" width="3.25" height="6.76" fill="#cccccc" stroke="#000" stroke-width="1"/>
<rect x="1064.48" y="1007.40" width="3.25" height="7.80" fill="#cccccc" stroke="#000" stroke-width="1"/>
<rect x="1067.73" y="1007.79" width="3.25" height="7.41" fill="#cccccc" stroke="#000" stroke-width="1"/>
<rect x="1070.97" y="1009.09" width="3.25" height="6.11" fill="#cccccc" stroke="#000" stroke-width="1"/>
<rect x="1074.22" y="1010.91" width="3.25" height="4.29" fill="#cccccc" stroke="#000" stroke-width="1"/>
<rect x="1077.47" y="1012.99" width="3.25" height="2.21" fill="#cccccc" stroke="#000" stroke-width="1"/>
<rect x="1080.72" y="1014.16" width="3.25" height="1.04" fill="#cccccc" stroke="#000" stroke-width="1"/>
<rect x="990.40" y="942.80" width="128.40" height="72.40" fill="none" stroke="#262626" stroke-width="1.1"/>
<line x1="1006.50" y1="1015.20" x2="1006.50" y2="1013.40" stroke="#262626" stroke-width="1" />
<line x1="1006.50" y1="942.80" x2="1006.50" y2="944.60" stroke="#262626" stroke-width="1" />
<line x1="1086.80" y1="1015.20" x2="1086.80" y2="1013.40" stroke="#262626" stroke-width="1" />
<line x1="1086.80" y1="942.80" x2="1086.80" y2="944.60" stroke="#262626" stroke-width="1" />
<rect x="239.40" y="1060.40" width="128.40" height="71.90" fill="#fff" stroke="none"/>
<rect x="275.53" y="1084.45" width="15.21" height="47.85" fill="#cccccc" stroke="#000" stroke-width="1"/>
<rect x="290.73" y="1060.40" width="15.73" height="71.90" fill="#cccccc" stroke="#000" stroke-width="1"/>
<rect x="239.40" y="1060.40" width="128.40" height="71.90" fill="none" stroke="#262626" stroke-width="1.1"/>
<line x1="265.30" y1="1132.30" x2="265.30" y2="1130.50" stroke="#262626" stroke-width="1" />
<line x1="265.30" y1="1060.40" x2="265.30" y2="1062.20" stroke="#262626" stroke-width="1" />
<line x1="316.50" y1="1132.30" x2="316.50" y2="1130.50" stroke="#262626" stroke-width="1" />
<line x1="316.50" y1="1060.40" x2="316.50" y2="1062.20" stroke="#262626" stroke-width="1" />
<line x1="239.40" y1="1108.33" x2="241.20" y2="1108.33" stroke="#262626" stroke-width="1" />
<line x1="367.80" y1="1108.33" x2="366.00" y2="1108.33" stroke="#262626" stroke-width="1" />
<line x1="239.40" y1="1084.37" x2="241.20" y2="1084.37" stroke="#262626" stroke-width="1" />
<line x1="367.80" y1="1084.37" x2="366.00" y2="1084.37" stroke="#262626" stroke-width="1" />
<rect x="426.80" y="1060.40" width="129.80" height="71.90" fill="#fff" stroke="none"/>
<rect x="464.05" y="1060.40" width="11.42" height="71.90" fill="#cccccc" stroke="#000" stroke-width="1"/>
<rect x="475.48" y="1096.42" width="11.03" height="35.88" fill="#cccccc" stroke="#000" stroke-width="1"/>
<rect x="486.51" y="1067.55" width="11.29" height="64.75" fill="#cccccc" stroke="#000" stroke-width="1"/>
<rect x="426.80" y="1060.40" width="129.80" height="71.90" fill="none" stroke="#262626" stroke-width="1.1"/>
<line x1="445.20" y1="1132.30" x2="445.20" y2="1130.50" stroke="#262626" stroke-width="1" />
<line x1="445.20" y1="1060.40" x2="445.20" y2="1062.20" stroke="#262626" stroke-width="1" />
<line x1="482.80" y1="1132.30" x2="482.80" y2="1130.50" stroke="#262626" stroke-width="1" />
<line x1="482.80" y1="1060.40" x2="482.80" y2="1062.20" stroke="#262626" stroke-width="1" />
<line x1="519.60" y1="1132.30" x2="519.60" y2="1130.50" stroke="#262626" stroke-width="1" />
<line x1="519.60" y1="1060.40" x2="519.60" y2="1062.20" stroke="#262626" stroke-width="1" />
<line x1="426.80" y1="1096.35" x2="428.60" y2="1096.35" stroke="#262626" stroke-width="1" />
<line x1="556.60" y1="1096.35" x2="554.80" y2="1096.35" stroke="#262626" stroke-width="1" />
<rect x="614.30" y="1060.40" width="129.70" height="71.90" fill="#fff" stroke="none"/>
<rect x="619.50" y="1112.41" width="13.78" height="19.89" fill="#cccccc" stroke="#000" stroke-width="1"/>
<rect x="633.27" y="1120.47" width="13.91" height="11.83" fill="#cccccc" stroke="#000" stroke-width="1"/>
<rect x="647.18" y="1112.41" width="13.91" height="19.89" fill="#cccccc" stroke="#000" stroke-width="1"/>
<rect x="661.09" y="1086.40" width="14.04" height="45.90" fill="#cccccc" stroke="#000" stroke-width="1"/>
<rect x="675.12" y="1091.86" width="13.39" height="40.44" fill="#cccccc" stroke="#000" stroke-width="1"/>
<rect x="614.30" y="1060.40" width="129.70" height="71.90" fill="none" stroke="#262626" stroke-width="1.1"/>
<line x1="660.70" y1="1132.30" x2="660.70" y2="1130.50" stroke="#262626" stroke-width="1" />
<line x1="660.70" y1="1060.40" x2="660.70" y2="1062.20" stroke="#262626" stroke-width="1" />
<line x1="716.50" y1="1132.30" x2="716.50" y2="1130.50" stroke="#262626" stroke-width="1" />
<line x1="716.50" y1="1060.40" x2="716.50" y2="1062.20" stroke="#262626" stroke-width="1" />
<rect x="801.50" y="1060.40" width="130.20" height="71.90" fill="#fff" stroke="none"/>
<rect x="801.50" y="1105.52" width="6.88" height="26.78" fill="#cccccc" stroke="#000" stroke-width="1"/>
<rect x="808.38" y="1092.25" width="7.14" height="40.05" fill="#cccccc" stroke="#000" stroke-width="1"/>
<rect x="815.52" y="1117.87" width="6.88" height="14.43" fill="#cccccc" stroke="#000" stroke-width="1"/>
<rect x="822.40" y="1123.85" width="6.75" height="8.45" fill="#cccccc" stroke="#000" stroke-width="1"/>
<rect x="829.15" y="1126.45" width="6.49" height="5.85" fill="#cccccc" stroke="#000" stroke-width="1"/>
<rect x="835.64" y="1118.26" width="6.75" height="14.04" fill="#cccccc" stroke="#000" stroke-width="1"/>
<rect x="842.39" y="1116.31" width="7.14" height="15.99" fill="#cccccc" stroke="#000" stroke-width="1"/>
<rect x="849.53" y="1123.72" width="6.88" height="8.58" fill="#cccccc" stroke="#000" stroke-width="1"/>
<rect x="856.41" y="1128.40" width="6.88" height="3.90" fill="#cccccc" stroke="#000" stroke-width="1"/>
<rect x="863.29" y="1130.61" width="6.75" height="1.69" fill="#cccccc" stroke="#000" stroke-width="1"/>
<rect x="870.04" y="1131.52" width="7.14" height="0.78" fill="#cccccc" stroke="#000" stroke-width="1"/>
<rect x="877.18" y="1131.91" width="7.14" height="0.39" fill="#cccccc" stroke="#000" stroke-width="1"/>
<rect x="801.50" y="1060.40" width="130.20" height="71.90" fill="none" stroke="#262626" stroke-width="1.1"/>
<line x1="840.60" y1="1132.30" x2="840.60" y2="1130.50" stroke="#262626" stroke-width="1" />
<line x1="840.60" y1="1060.40" x2="840.60" y2="1062.20" stroke="#262626" stroke-width="1" />
<line x1="885.90" y1="1132.30" x2="885.90" y2="1130.50" stroke="#262626" stroke-width="1" />
<line x1="885.90" y1="1060.40" x2="885.90" y2="1062.20" stroke="#262626" stroke-width="1" />
<line x1="801.50" y1="1096.35" x2="803.30" y2="1096.35" stroke="#262626" stroke-width="1" />
<line x1="931.70" y1="1096.35" x2="929.90" y2="1096.35" stroke="#262626" stroke-width="1" />
<rect x="990.40" y="1060.40" width="128.40" height="71.90" fill="#fff" stroke="none"/>
<rect x="1018.99" y="1131.52" width="3.25" height="0.78" fill="#cccccc" stroke="#000" stroke-width="1"/>
<rect x="1022.24" y="1128.66" width="3.25" height="3.64" fill="#cccccc" stroke="#000" stroke-width="1"/>
<rect x="1025.49" y="1116.05" width="3.25" height="16.25" fill="#cccccc" stroke="#000" stroke-width="1"/>
<rect x="1028.74" y="1069.24" width="3.25" height="63.06" fill="#cccccc" stroke="#000" stroke-width="1"/>
<rect x="1031.99" y="1072.36" width="3.25" height="59.94" fill="#cccccc" stroke="#000" stroke-width="1"/>
<rect x="1035.24" y="1099.41" width="3.25" height="32.89" fill="#cccccc" stroke="#000" stroke-width="1"/>
<rect x="1038.49" y="1118.26" width="3.25" height="14.04" fill="#cccccc" stroke="#000" stroke-width="1"/>
<rect x="1041.73" y="1128.66" width="3.25" height="3.64" fill="#cccccc" stroke="#000" stroke-width="1"/>
<rect x="1044.98" y="1128.66" width="3.25" height="3.64" fill="#cccccc" stroke="#000" stroke-width="1"/>
<rect x="1048.23" y="1127.10" width="3.25" height="5.20" fill="#cccccc" stroke="#000" stroke-width="1"/>
<rect x="1051.48" y="1128.66" width="3.25" height="3.64" fill="#cccccc" stroke="#000" stroke-width="1"/>
<rect x="1054.73" y="1127.10" width="3.25" height="5.20" fill="#cccccc" stroke="#000" stroke-width="1"/>
<rect x="1057.98" y="1126.71" width="3.25" height="5.59" fill="#cccccc" stroke="#000" stroke-width="1"/>
<rect x="1061.23" y="1130.35" width="3.25" height="1.95" fill="#cccccc" stroke="#000" stroke-width="1"/>
<rect x="1064.48" y="1130.35" width="3.25" height="1.95" fill="#cccccc" stroke="#000" stroke-width="1"/>
<rect x="1067.73" y="1131.26" width="3.25" height="1.04" fill="#cccccc" stroke="#000" stroke-width="1"/>
<rect x="1070.97" y="1131.65" width="3.25" height="0.65" fill="#cccccc" stroke="#000" stroke-width="1"/>
<rect x="990.40" y="1060.40" width="128.40" height="71.90" fill="none" stroke="#262626" stroke-width="1.1"/>
<line x1="1006.50" y1="1132.30" x2="1006.50" y2="1130.50" stroke="#262626" stroke-width="1" />
<line x1="1006.50" y1="1060.40" x2="1006.50" y2="1062.20" stroke="#262626" stroke-width="1" />
<line x1="1086.80" y1="1132.30" x2="1086.80" y2="1130.50" stroke="#262626" stroke-width="1" />
<line x1="1086.80" y1="1060.40" x2="1086.80" y2="1062.20" stroke="#262626" stroke-width="1" />
<rect x="239.40" y="1177.50" width="128.40" height="73.50" fill="#fff" stroke="none"/>
<rect x="275.17" y="1177.50" width="10.39" height="73.50" fill="#cccccc" stroke="#000" stroke-width="1"/>
<rect x="285.56" y="1202.33" width="10.59" height="48.67" fill="#cccccc" stroke="#000" stroke-width="1"/>
<rect x="296.16" y="1226.87" width="10.29" height="24.13" fill="#cccccc" stroke="#000" stroke-width="1"/>
<rect x="239.40" y="1177.50" width="128.40" height="73.50" fill="none" stroke="#262626" stroke-width="1.1"/>
<line x1="265.30" y1="1251.00" x2="265.30" y2="1249.20" stroke="#262626" stroke-width="1" />
<line x1="265.30" y1="1177.50" x2="265.30" y2="1179.30" stroke="#262626" stroke-width="1" />
<line x1="316.50" y1="1251.00" x2="316.50" y2="1249.20" stroke="#262626" stroke-width="1" />
<line x1="316.50" y1="1177.50" x2="316.50" y2="1179.30" stroke="#262626" stroke-width="1" />
<line x1="239.40" y1="1226.50" x2="241.20" y2="1226.50" stroke="#262626" stroke-width="1" />
<line x1="367.80" y1="1226.50" x2="366.00" y2="1226.50" stroke="#262626" stroke-width="1" />
<line x1="239.40" y1="1202.00" x2="241.20" y2="1202.00" stroke="#262626" stroke-width="1" />
<line x1="367.80" y1="1202.00" x2="366.00" y2="1202.00" stroke="#262626" stroke-width="1" />
<rect x="426.80" y="1177.50" width="129.80" height="73.50" fill="#fff" stroke="none"/>
<rect x="426.80" y="1246.11" width="18.43" height="4.89" fill="#cccccc" stroke="#000" stroke-width="1"/>
<rect x="445.23" y="1240.93" width="17.93" height="10.07" fill="#cccccc" stroke="#000" stroke-width="1"/>
<rect x="463.16" y="1192.26" width="19.23" height="58.74" fill="#cccccc" stroke="#000" stroke-width="1"/>
<rect x="482.39" y="1211.11" width="18.73" height="39.89" fill="#cccccc" stroke="#000" stroke-width="1"/>
<rect x="501.11" y="1246.11" width="18.33" height="4.89" fill="#cccccc" stroke="#000" stroke-width="1"/>
<rect x="426.80" y="1177.50" width="129.80" height="73.50" fill="none" stroke="#262626" stroke-width="1.1"/>
<line x1="445.20" y1="1251.00" x2="445.20" y2="1249.20" stroke="#262626" stroke-width="1" />
<line x1="445.20" y1="1177.50" x2="445.20" y2="1179.30" stroke="#262626" stroke-width="1" />
<line x1="482.80" y1="1251.00" x2="482.80" y2="1249.20" stroke="#262626" stroke-width="1" />
<line x1="482.80" y1="1177.50" x2="482.80" y2="1179.30" stroke="#262626" stroke-width="1" />
<line x1="519.60" y1="1251.00" x2="519.60" y2="1249.20" stroke="#262626" stroke-width="1" />
<line x1="519.60" y1="1177.50" x2="519.60" y2="1179.30" stroke="#262626" stroke-width="1" />
<line x1="426.80" y1="1226.50" x2="428.60" y2="1226.50" stroke="#262626" stroke-width="1" />
<line x1="556.60" y1="1226.50" x2="554.80" y2="1226.50" stroke="#262626" stroke-width="1" />
<line x1="426.80" y1="1202.00" x2="428.60" y2="1202.00" stroke="#262626" stroke-width="1" />
<line x1="556.60" y1="1202.00" x2="554.80" y2="1202.00" stroke="#262626" stroke-width="1" />
<rect x="614.30" y="1177.50" width="129.70" height="73.50" fill="#fff" stroke="none"/>
<rect x="614.30" y="1247.91" width="5.50" height="3.09" fill="#cccccc" stroke="#000" stroke-width="1"/>
<rect x="619.80" y="1215.30" width="13.71" height="35.70" fill="#cccccc" stroke="#000" stroke-width="1"/>
<rect x="633.51" y="1240.43" width="13.61" height="10.57" fill="#cccccc" stroke="#000" stroke-width="1"/>
<rect x="647.13" y="1230.36" width="13.71" height="20.64" fill="#cccccc" stroke="#000" stroke-width="1"/>
<rect x="660.84" y="1228.46" width="13.71" height="22.54" fill="#cccccc" stroke="#000" stroke-width="1"/>
<rect x="674.55" y="1203.93" width="14.11" height="47.07" fill="#cccccc" stroke="#000" stroke-width="1"/>
<rect x="688.66" y="1247.91" width="14.01" height="3.09" fill="#cccccc" stroke="#000" stroke-width="1"/>
<rect x="614.30" y="1177.50" width="129.70" height="73.50" fill="none" stroke="#262626" stroke-width="1.1"/>
<line x1="660.70" y1="1251.00" x2="660.70" y2="1249.20" stroke="#262626" stroke-width="1" />
<line x1="660.70" y1="1177.50" x2="660.70" y2="1179.30" stroke="#262626" stroke-width="1" />
<line x1="716.50" y1="1251.00" x2="716.50" y2="1249.20" stroke="#262626" stroke-width="1" />
<line x1="716.50" y1="1177.50" x2="716.50" y2="1179.30" stroke="#262626" stroke-width="1" />
<rect x="801.50" y="1177.50" width="130.20" height="73.50" fill="#fff" stroke="none"/>
<rect x="801.50" y="1187.89" width="6.91" height="63.11" fill="#cccccc" stroke="#000" stroke-width="1"/>
<rect x="808.41" y="1227.63" width="7.11" height="23.37" fill="#cccccc" stroke="#000" stroke-width="1"/>
<rect x="815.51" y="1236.72" width="6.91" height="14.28" fill="#cccccc" stroke="#000" stroke-width="1"/>
<rect x="822.42" y="1245.71" width="6.61" height="5.29" fill="#cccccc" stroke="#000" stroke-width="1"/>
<rect x="829.02" y="1246.91" width="6.61" height="4.09" fill="#cccccc" stroke="#000" stroke-width="1"/>
<rect x="835.63" y="1240.81" width="6.61" height="10.19" fill="#cccccc" stroke="#000" stroke-width="1"/>
<rect x="842.23" y="1237.52" width="7.41" height="13.48" fill="#cccccc" stroke="#000" stroke-width="1"/>
<rect x="849.64" y="1244.61" width="6.61" height="6.39" fill="#cccccc" stroke="#000" stroke-width="1"/>
<rect x="856.24" y="1249.80" width="7.01" height="1.20" fill="#cccccc" stroke="#000" stroke-width="1"/>
<rect x="801.50" y="1177.50" width="130.20" height="73.50" fill="none" stroke="#262626" stroke-width="1.1"/>
<line x1="840.60" y1="1251.00" x2="840.60" y2="1249.20" stroke="#262626" stroke-width="1" />
<line x1="840.60" y1="1177.50" x2="840.60" y2="1179.30" stroke="#262626" stroke-width="1" />
<line x1="885.90" y1="1251.00" x2="885.90" y2="1249.20" stroke="#262626" stroke-width="1" />
<line x1="885.90" y1="1177.50" x2="885.90" y2="1179.30" stroke="#262626" stroke-width="1" />
<line x1="801.50" y1="1214.25" x2="803.30" y2="1214.25" stroke="#262626" stroke-width="1" />
<line x1="931.70" y1="1214.25" x2="929.90" y2="1214.25" stroke="#262626" stroke-width="1" />
<rect x="990.40" y="1177.50" width="128.40" height="73.50" fill="#fff" stroke="none"/>
<rect x="1015.97" y="1250.63" width="3.15" height="0.37" fill="#cccccc" stroke="#000" stroke-width="1"/>
<rect x="1019.12" y="1249.51" width="3.15" height="1.49" fill="#cccccc" stroke="#000" stroke-width="1"/>
<rect x="1022.27" y="1243.56" width="3.15" height="7.44" fill="#cccccc" stroke="#000" stroke-width="1"/>
<rect x="1025.42" y="1199.27" width="3.15" height="51.73" fill="#cccccc" stroke="#000" stroke-width="1"/>
<rect x="1028.57" y="1182.52" width="3.52" height="68.48" fill="#cccccc" stroke="#000" stroke-width="1"/>
<rect x="1032.09" y="1216.58" width="3.15" height="34.42" fill="#cccccc" stroke="#000" stroke-width="1"/>
<rect x="1035.24" y="1219.74" width="3.15" height="31.26" fill="#cccccc" stroke="#000" stroke-width="1"/>
<rect x="1038.39" y="1243.56" width="3.15" height="7.44" fill="#cccccc" stroke="#000" stroke-width="1"/>
<rect x="1041.54" y="1247.28" width="3.15" height="3.72" fill="#cccccc" stroke="#000" stroke-width="1"/>
<rect x="1044.69" y="1248.58" width="3.15" height="2.42" fill="#cccccc" stroke="#000" stroke-width="1"/>
<rect x="1047.84" y="1248.77" width="3.34" height="2.23" fill="#cccccc" stroke="#000" stroke-width="1"/>
<rect x="1051.17" y="1245.42" width="3.15" height="5.58" fill="#cccccc" stroke="#000" stroke-width="1"/>
<rect x="1054.32" y="1247.28" width="3.15" height="3.72" fill="#cccccc" stroke="#000" stroke-width="1"/>
<rect x="1057.47" y="1248.77" width="3.15" height="2.23" fill="#cccccc" stroke="#000" stroke-width="1"/>
<rect x="1060.62" y="1249.70" width="3.15" height="1.30" fill="#cccccc" stroke="#000" stroke-width="1"/>
<rect x="1063.77" y="1250.44" width="3.71" height="0.56" fill="#cccccc" stroke="#000" stroke-width="1"/>
<rect x="990.40" y="1177.50" width="128.40" height="73.50" fill="none" stroke="#262626" stroke-width="1.1"/>
<line x1="1006.50" y1="1251.00" x2="1006.50" y2="1249.20" stroke="#262626" stroke-width="1" />
<line x1="1006.50" y1="1177.50" x2="1006.50" y2="1179.30" stroke="#262626" stroke-width="1" />
<line x1="1086.80" y1="1251.00" x2="1086.80" y2="1249.20" stroke="#262626" stroke-width="1" />
<line x1="1086.80" y1="1177.50" x2="1086.80" y2="1179.30" stroke="#262626" stroke-width="1" />
<text x="221.96" y="1258.80" font-size="22" fill="#262626">0</text>
<path d="M763,0L583,0L583,1147Q518,1085 412.5,1023T223,930L223,1104Q374,1175 487,1276T647,1472L763,1472Z" fill="#262626" transform="translate(221.96,1234.30) scale(0.01074,-0.01074)"/>
<text x="221.96" y="1209.80" font-size="22" fill="#262626">2</text>
<text x="221.96" y="1185.30" font-size="22" fill="#262626">3</text>
<text x="409.36" y="1258.80" font-size="22" fill="#262626">0</text>
<text x="409.36" y="1234.30" font-size="22" fill="#262626">5</text>
<path d="M763,0L583,0L583,1147Q518,1085 412.5,1023T223,930L223,1104Q374,1175 487,1276T647,1472L763,1472Z" fill="#262626" transform="translate(397.13,1209.80) scale(0.01074,-0.01074)"/>
<text x="409.36" y="1209.80" font-size="22" fill="#262626">0</text>
<path d="M763,0L583,0L583,1147Q518,1085 412.5,1023T223,930L223,1104Q374,1175 487,1276T647,1472L763,1472Z" fill="#262626" transform="translate(397.13,1185.30) scale(0.01074,-0.01074)"/>
<text x="409.36" y="1185.30" font-size="22" fill="#262626">5</text>
<text x="596.86" y="1258.80" font-size="22" fill="#262626">0</text>
<text x="584.63" y="1185.30" font-size="22" fill="#262626">50</text>
<text x="784.06" y="1258.80" font-size="22" fill="#262626">0</text>
<path d="M763,0L583,0L583,1147Q518,1085 412.5,1023T223,930L223,1104Q374,1175 487,1276T647,1472L763,1472Z" fill="#262626" transform="translate(759.59,1222.05) scale(0.01074,-0.01074)"/>
<text x="771.83" y="1222.05" font-size="22" fill="#262626">00</text>
<text x="759.59" y="1185.30" font-size="22" fill="#262626">200</text>
<text x="972.96" y="1258.80" font-size="22" fill="#262626">0</text>
<text x="948.49" y="1185.30" font-size="22" fill="#262626">500</text>
<text x="248.51" y="1276.30" font-size="22" fill="#262626">0.</text>
<path d="M763,0L583,0L583,1147Q518,1085 412.5,1023T223,930L223,1104Q374,1175 487,1276T647,1472L763,1472Z" fill="#262626" transform="translate(266.86,1276.30) scale(0.01074,-0.01074)"/>
<text x="299.71" y="1276.30" font-size="22" fill="#262626">0.2</text>
<text x="351.01" y="1276.30" font-size="22" fill="#262626">0.3</text>
<text x="428.41" y="1276.30" font-size="22" fill="#262626">0.</text>
<path d="M763,0L583,0L583,1147Q518,1085 412.5,1023T223,930L223,1104Q374,1175 487,1276T647,1472L763,1472Z" fill="#262626" transform="translate(446.76,1276.30) scale(0.01074,-0.01074)"/>
<text x="466.01" y="1276.30" font-size="22" fill="#262626">0.2</text>
<text x="502.81" y="1276.30" font-size="22" fill="#262626">0.3</text>
<text x="643.91" y="1276.30" font-size="22" fill="#262626">0.2</text>
<text x="699.71" y="1276.30" font-size="22" fill="#262626">0.4</text>
<text x="823.81" y="1276.30" font-size="22" fill="#262626">0.2</text>
<text x="869.11" y="1276.30" font-size="22" fill="#262626">0.4</text>
<text x="914.91" y="1276.30" font-size="22" fill="#262626">0.6</text>
<text x="989.71" y="1276.30" font-size="22" fill="#262626">0.5</text>
<path d="M763,0L583,0L583,1147Q518,1085 412.5,1023T223,930L223,1104Q374,1175 487,1276T647,1472L763,1472Z" fill="#262626" transform="translate(1079.18,1276.30) scale(0.01074,-0.01074)"/>
<text x="0" y="0" font-size="32" text-anchor="middle" fill="#000" transform="translate(300.6,1311.4) scale(0.93,1)">OD</text>
<text x="0" y="0" font-size="32" text-anchor="middle" fill="#000" transform="translate(206,1201.5) rotate(-90)"># of wells</text>
</svg>
</body></html>
